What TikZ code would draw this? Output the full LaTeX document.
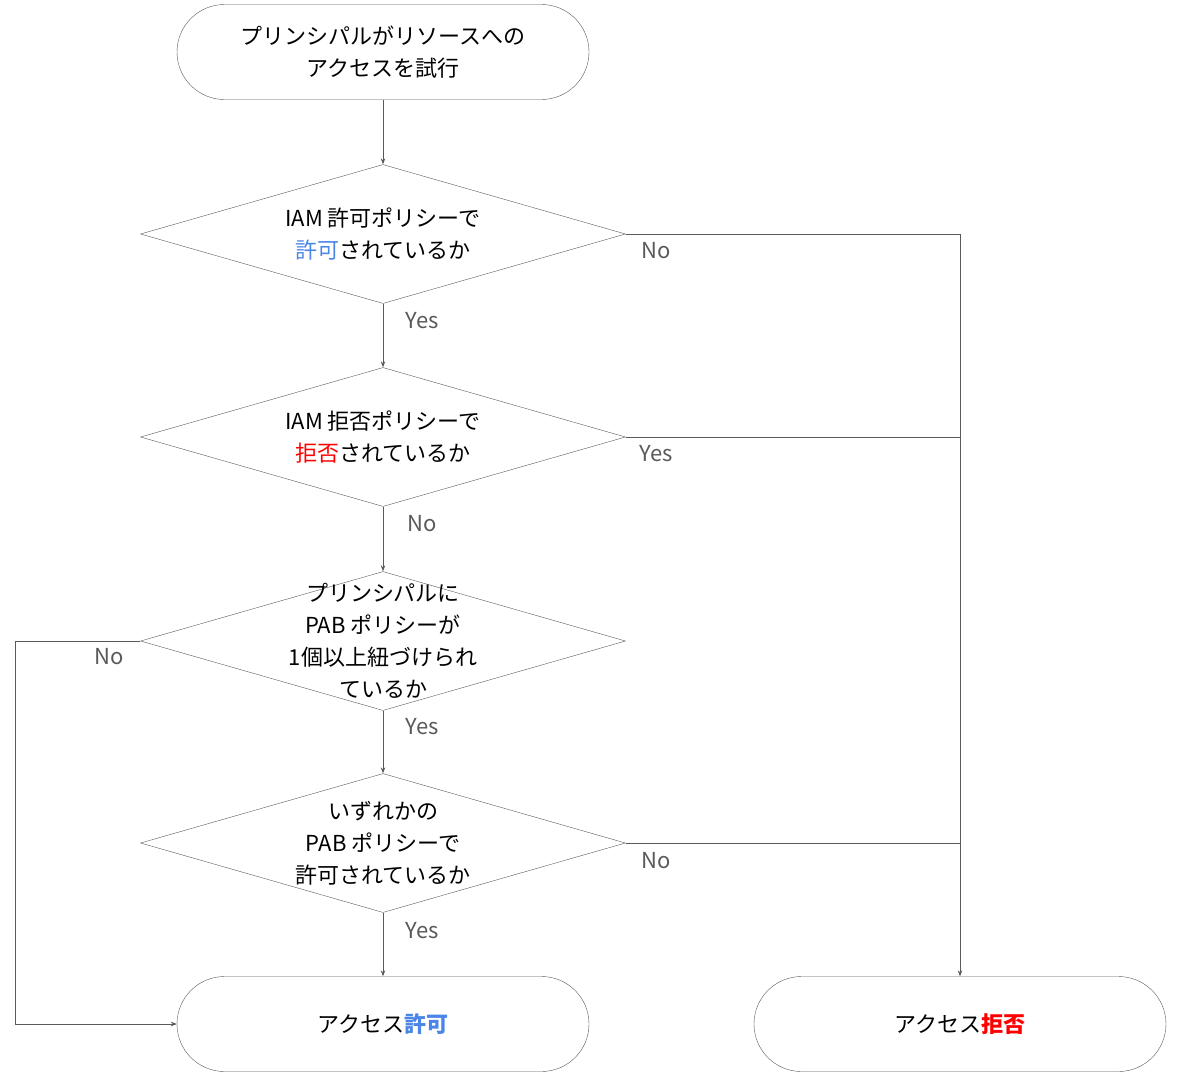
\documentclass[tikz,border=0pt]{standalone}
\usepackage{fontspec}
\setmainfont{Noto Sans CJK JP}
\usetikzlibrary{shapes.geometric,arrows.meta}
\definecolor{ln}{HTML}{595959}
\definecolor{lb}{HTML}{595959}
\definecolor{bl}{HTML}{4A86E8}
\definecolor{rd}{HTML}{FF0000}
\begin{document}
\begin{tikzpicture}[x=1pt,y=-1pt,
  term/.style={draw=ln,rounded corners=47.5pt,minimum width=412pt,minimum height=95pt,inner sep=0},
  dec/.style={draw=ln,diamond,minimum width=485pt,minimum height=139pt,inner sep=0},
  txt/.style={align=center,font=\fontsize{22pt}{32pt}\selectfont},
  lab/.style={text=lb,font=\fontsize{22pt}{26pt}\selectfont},
  con/.style={draw=ln,line width=0.7pt},
  arr/.style={con,-{Stealth[length=6pt,width=4.5pt]}}]
\useasboundingbox (0,0) rectangle (1187,1080);
\node[term,txt] (start) at (383,52) {プリンシパルがリソースへの\\アクセスを試行};
\node[dec] (d1) at (383,234) {};
\node[txt] at (383,234) {IAM 許可ポリシーで\\{\color{bl}許可}されているか};
\node[dec] (d2) at (383,437) {};
\node[txt] at (383,437) {IAM 拒否ポリシーで\\{\color{rd}拒否}されているか};
\node[dec] (d3) at (383,641) {};
\node[txt] at (383,641) {プリンシパルに\\PAB ポリシーが\\1個以上紐づけられ\\ているか};
\node[dec] (d4) at (383,843) {};
\node[txt] at (383,843) {いずれかの\\PAB ポリシーで\\許可されているか};
\node[term,txt] (allow) at (383,1024) {アクセス{\color{bl}\bfseries 許可}};
\node[term,txt] (deny) at (960,1024) {アクセス{\color{rd}\bfseries 拒否}};
\coordinate (L) at (15,641);
\draw[arr] (start) -- (d1);
\draw[arr] (d1) -- (d2);
\draw[arr] (d2) -- (d3);
\draw[arr] (d3) -- (d4);
\draw[arr] (d4) -- (allow);
\draw[arr] (d1.east) -| (deny.north);
\draw[con] (d2.east) -- (deny.north |- d2.east);
\draw[con] (d4.east) -- (deny.north |- d4.east);
\draw[arr] (d3.west) -- (L) |- (allow.west);
\node[lab] at (422,321) {Yes};
\node[lab] at (656,251) {No};
\node[lab] at (656,454) {Yes};
\node[lab] at (422,524) {No};
\node[lab] at (109,657) {No};
\node[lab] at (422,727) {Yes};
\node[lab] at (656,861) {No};
\node[lab] at (422,931) {Yes};
\end{tikzpicture}
\end{document}
